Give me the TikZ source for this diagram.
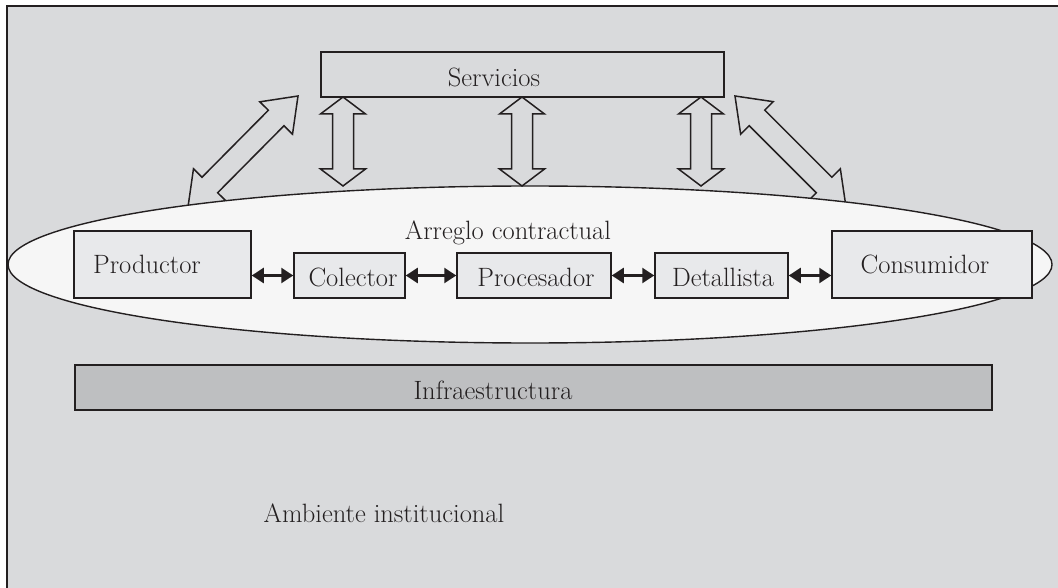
\documentclass[tikz,border=0pt]{standalone}
\usetikzlibrary{calc,arrows.meta,shapes.geometric}
\definecolor{bggray}{HTML}{D9DADC}
\definecolor{ellfill}{HTML}{F6F6F6}
\definecolor{boxfill}{HTML}{E8E9EB}
\definecolor{infrafill}{HTML}{BEBFC1}
\definecolor{ink}{HTML}{231F20}
\tikzset{
  txt/.style={font=\fontsize{26.5}{30}\selectfont, text=ink, inner sep=0pt},
  actor/.style={draw=ink, line width=1.5pt, fill=boxfill, inner sep=0pt},
  blockarr/.style={draw=ink, line width=1.5pt, fill=bggray, line join=miter},
  linkarr/.style={draw=ink, line width=2.4pt, {Triangle[length=12pt,width=15pt]}-{Triangle[length=12pt,width=15pt]}, shorten <=0pt, shorten >=0pt}
}
% #1 start, #2 end, #3 head length, #4 head half width, #5 shaft half width
\newcommand{\blockarrow}[5]{%
  \draw[blockarr] let \p1=($(#2)-(#1)$), \n1={veclen(\x1,\y1)}, \n2={atan2(\y1,\x1)} in
    ([shift={(#1)},rotate=\n2]0pt,0pt)
    -- ([shift={(#1)},rotate=\n2]#3,#4)
    -- ([shift={(#1)},rotate=\n2]#3,#5)
    -- ([shift={(#1)},rotate=\n2]{\n1-#3},#5)
    -- ([shift={(#1)},rotate=\n2]{\n1-#3},#4)
    -- ([shift={(#1)},rotate=\n2]{\n1},0pt)
    -- ([shift={(#1)},rotate=\n2]{\n1-#3},-#4)
    -- ([shift={(#1)},rotate=\n2]{\n1-#3},-#5)
    -- ([shift={(#1)},rotate=\n2]#3,-#5)
    -- ([shift={(#1)},rotate=\n2]#3,-#4)
    -- cycle;}
\begin{document}
\begin{tikzpicture}[x=1pt,y=-1pt]
\useasboundingbox (0,0) rectangle (1058,588);
\fill[white] (0,0) rectangle (1058,588);
% outer frame (institutional environment)
\draw[ink, line width=1.8pt, fill=bggray] (7,6) rectangle (1070,600);
% services box
\node[draw=ink, line width=1.5pt, fill=bggray, minimum width=403pt, minimum height=45pt, inner sep=0pt] (serv) at (522.5,74.5) {};
\node[txt] (servt) at (494,77) {Servicios};
% arrow end points
\coordinate (v1a) at (343,97);  \coordinate (v1b) at (343,186);
\coordinate (v2a) at (522,97);  \coordinate (v2b) at (522,186);
\coordinate (v3a) at (701,97);  \coordinate (v3b) at (701,186);
\coordinate (d1a) at (188,207); \coordinate (d1b) at (298,96);
\coordinate (d2a) at (846,207); \coordinate (d2b) at (735,96);
% diagonal block arrows (partly hidden by the ellipse)
\blockarrow{d1a}{d1b}{31pt}{23pt}{11pt}
\blockarrow{d2a}{d2b}{31pt}{23pt}{11pt}
% contractual arrangement ellipse
\node[draw=ink, line width=1.4pt, fill=ellfill, ellipse, minimum width=1044pt, minimum height=157pt, inner sep=0pt] (ell) at (530,264.5) {};
% vertical block arrows
\blockarrow{v1a}{v1b}{17pt}{22.5pt}{10.5pt}
\blockarrow{v2a}{v2b}{17pt}{22.5pt}{10.5pt}
\blockarrow{v3a}{v3b}{17pt}{22.5pt}{10.5pt}
\node[txt] (arr) at (508,233) {Arreglo contractual};
% actors
\node[actor, minimum width=177pt, minimum height=67pt] (prod) at (162.5,264.5) {};
\node[txt, anchor=west] (prodt) at (93,264) {Productor};
\node[actor, minimum width=111pt, minimum height=45pt] (col) at (349.5,275.5) {};
\node[txt] (colt) at (353,277) {Colector};
\node[actor, minimum width=154pt, minimum height=45pt] (proc) at (534,275.5) {};
\node[txt] (proct) at (536,277) {Procesador};
\node[actor, minimum width=133pt, minimum height=45pt] (det) at (721.5,275.5) {};
\node[txt] (dett) at (723,277) {Detallista};
\node[actor, minimum width=200pt, minimum height=67pt] (cons) at (932,264.5) {};
\node[txt] (const) at (925,264) {Consumidor};
% links
\draw[linkarr] (prod.east |- col.west) -- (col.west);
\draw[linkarr] (col.east) -- (proc.west);
\draw[linkarr] (proc.east) -- (det.west);
\draw[linkarr] (det.east) -- (cons.west |- det.east);
% infrastructure
\node[draw=ink, line width=1.5pt, fill=infrafill, minimum width=917pt, minimum height=45pt, inner sep=0pt] (inf) at (533.5,387.5) {};
\node[txt] (inft) at (493,390) {Infraestructura};
\node[txt] (amb) at (384,513) {Ambiente institucional};
\end{tikzpicture}
\end{document}
